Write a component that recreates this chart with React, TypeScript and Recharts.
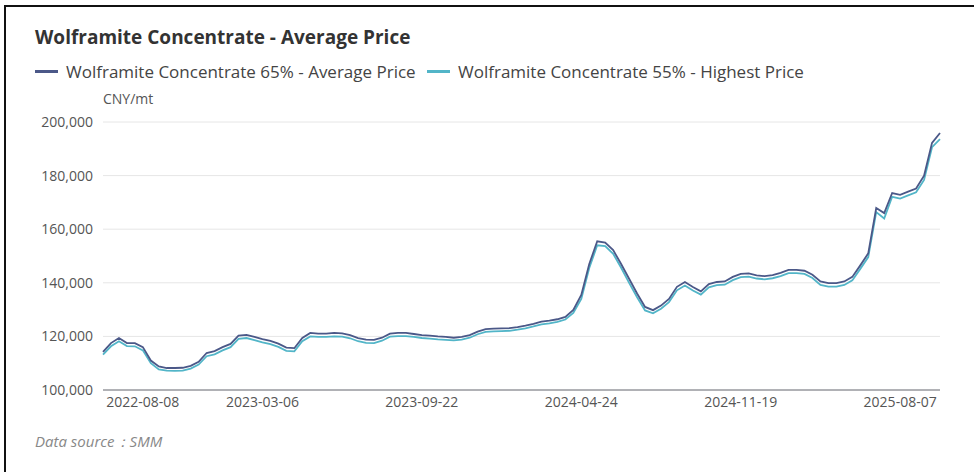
import React from 'react';
import { LineChart, Line, XAxis, YAxis, CartesianGrid } from 'recharts';

// Category dates (only some of them are shown as ticks)
const dates = [
  '2022-07-04', '2022-07-11', '2022-07-18', '2022-07-25', '2022-08-01', '2022-08-08', '2022-08-22', '2022-09-05', '2022-09-19', '2022-10-10',
  '2022-10-24', '2022-11-07', '2022-11-21', '2022-12-05', '2022-12-19', '2023-01-03', '2023-01-16', '2023-01-30', '2023-02-13', '2023-02-20',
  '2023-03-06', '2023-03-16', '2023-03-27', '2023-04-06', '2023-04-17', '2023-04-27', '2023-05-10', '2023-05-19', '2023-05-30', '2023-06-08',
  '2023-06-19', '2023-06-29', '2023-07-10', '2023-07-20', '2023-07-31', '2023-08-10', '2023-08-21', '2023-08-31', '2023-09-11', '2023-09-18',
  '2023-09-22', '2023-10-09', '2023-10-18', '2023-10-27', '2023-11-07', '2023-11-16', '2023-11-27', '2023-12-06', '2023-12-15', '2023-12-26',
  '2024-01-05', '2024-01-16', '2024-01-25', '2024-02-05', '2024-02-21', '2024-03-01', '2024-03-12', '2024-03-21', '2024-04-01', '2024-04-12',
  '2024-04-24', '2024-05-06', '2024-05-15', '2024-05-24', '2024-06-04', '2024-06-14', '2024-06-25', '2024-07-04', '2024-07-15', '2024-07-24',
  '2024-08-02', '2024-08-13', '2024-08-22', '2024-09-02', '2024-09-11', '2024-09-23', '2024-10-10', '2024-10-21', '2024-10-30', '2024-11-08',
  '2024-11-19', '2024-12-02', '2024-12-13', '2024-12-26', '2025-01-08', '2025-01-20', '2025-02-07', '2025-02-19', '2025-03-04', '2025-03-17',
  '2025-03-28', '2025-04-10', '2025-04-23', '2025-05-09', '2025-05-21', '2025-06-04', '2025-06-17', '2025-06-30', '2025-07-11', '2025-07-24',
  '2025-08-07', '2025-08-08', '2025-08-11', '2025-08-12', '2025-08-13', '2025-08-14',
];

// Wolframite Concentrate 65% - Average Price (CNY/mt)
const avg65 = [
  114200, 117500, 119400, 117500, 117500, 116000, 111000, 108800, 108200, 108200,
  108300, 109000, 110500, 113800, 114500, 116000, 117200, 120300, 120600, 119800,
  119000, 118300, 117300, 115800, 115600, 119400, 121300, 121000, 121000, 121300,
  121100, 120500, 119400, 118800, 118700, 119500, 121000, 121300, 121300, 120900,
  120500, 120300, 120000, 119800, 119500, 119800, 120500, 121800, 122700, 122900,
  123000, 123100, 123500, 124000, 124700, 125500, 125900, 126400, 127300, 129900,
  135500, 147000, 155500, 155000, 152200, 147000, 141500, 136000, 131000, 129800,
  131500, 134000, 138500, 140300, 138400, 136800, 139500, 140300, 140500, 142200,
  143300, 143500, 142800, 142500, 142900, 143700, 144800, 144800, 144500, 143000,
  140500, 139900, 139900, 140500, 142200, 146500, 151000, 167900, 166000, 173500,
  172800, 174000, 175200, 180000, 192200, 195900,
];

// Wolframite Concentrate 55% - Highest Price (CNY/mt)
const high55 = [
  113200, 116300, 118200, 116400, 116300, 114800, 110000, 107700, 107200, 107100,
  107200, 108000, 109500, 112600, 113300, 114800, 116000, 119100, 119400, 118600,
  117800, 117100, 116100, 114600, 114400, 118200, 120000, 119800, 119800, 120000,
  119900, 119300, 118200, 117600, 117500, 118400, 119900, 120100, 120100, 119800,
  119400, 119200, 118900, 118700, 118500, 118800, 119500, 120800, 121700, 121900,
  122000, 122100, 122500, 123000, 123700, 124500, 124900, 125400, 126300, 128800,
  134000, 145500, 154000, 153700, 150800, 145600, 140000, 134600, 129700, 128600,
  130300, 132800, 137200, 139000, 137100, 135600, 138300, 139100, 139300, 141000,
  142100, 142300, 141600, 141300, 141700, 142500, 143600, 143600, 143300, 141800,
  139200, 138600, 138600, 139200, 140900, 145200, 149600, 166400, 164000, 172100,
  171400, 172600, 173800, 178400, 190600, 193600,
];

const xTicks = ['2022-08-08', '2023-03-06', '2023-09-22', '2024-04-24', '2024-11-19', '2025-08-07'];
const yTicks = [100000, 120000, 140000, 160000, 180000, 200000];

const DARK = '#4b5888';
const TEAL = '#52b5c8';
const FONT = '"Open Sans", "Noto Sans", sans-serif';

const data = dates.map((d, i) => ({ date: d, avg65: avg65[i], high55: high55[i] }));

const LegendItem = ({ color, label, left }: { color: string; label: string; left: number }) => (
  <div style={{ position: 'absolute', left, top: 59, display: 'flex', alignItems: 'center', height: 24 }}>
    <div style={{ width: 23, height: 3, background: color }} />
    <span style={{ marginLeft: 8, fontSize: 17, color: '#444', whiteSpace: 'nowrap' }}>{label}</span>
  </div>
);

export default function App() {
  return (
    <div style={{ position: 'absolute', left: 0, top: 0, width: 974, height: 472, background: '#fff', fontFamily: FONT, overflow: 'hidden' }}>
      {/* frame edges */}
      <div style={{ position: 'absolute', left: 4, top: 5, width: 970, height: 2, background: '#111' }} />
      <div style={{ position: 'absolute', left: 4, top: 5, width: 2, height: 467, background: '#111' }} />

      <div style={{ position: 'absolute', left: 35, top: 24, fontSize: 19, fontWeight: 700, color: '#333', whiteSpace: 'nowrap' }}>
        Wolframite Concentrate - Average Price
      </div>
      <LegendItem color={DARK} label="Wolframite Concentrate 65% - Average Price" left={35} />
      <LegendItem color={TEAL} label="Wolframite Concentrate 55% - Highest Price" left={427} />
      <div style={{ position: 'absolute', left: 103, top: 89, fontSize: 14, color: '#555' }}>CNY/mt</div>

      <div style={{ position: 'absolute', left: 0, top: 0 }}>
        <LineChart width={974} height={472} data={data} margin={{ top: 122, right: 34, bottom: 52, left: 43 }}>
          <CartesianGrid vertical={false} stroke="#e6e6e6" />
          <XAxis
            dataKey="date"
            ticks={xTicks}
            interval={0}
            tickLine={false}
            tickSize={0}
            tickMargin={7}
            height={30}
            axisLine={{ stroke: '#6e7079' }}
            tick={{ fill: '#555', fontSize: 14, fontFamily: FONT }}
          />
          <YAxis
            domain={[100000, 200000]}
            ticks={yTicks}
            width={60}
            axisLine={false}
            tickLine={false}
            tickSize={0}
            tickMargin={10}
            tickFormatter={(v: number) => v.toLocaleString('en-US')}
            tick={{ fill: '#555', fontSize: 14, fontFamily: FONT }}
          />
          <Line type="linear" dataKey="high55" stroke={TEAL} strokeWidth={1.8} dot={false} isAnimationActive={false} />
          <Line type="linear" dataKey="avg65" stroke={DARK} strokeWidth={1.8} dot={false} isAnimationActive={false} />
        </LineChart>
      </div>

      <div style={{ position: 'absolute', left: 35, top: 431, fontSize: 15, fontStyle: 'italic', color: '#888', whiteSpace: 'nowrap' }}>
        Data source：SMM
      </div>
    </div>
  );
}
